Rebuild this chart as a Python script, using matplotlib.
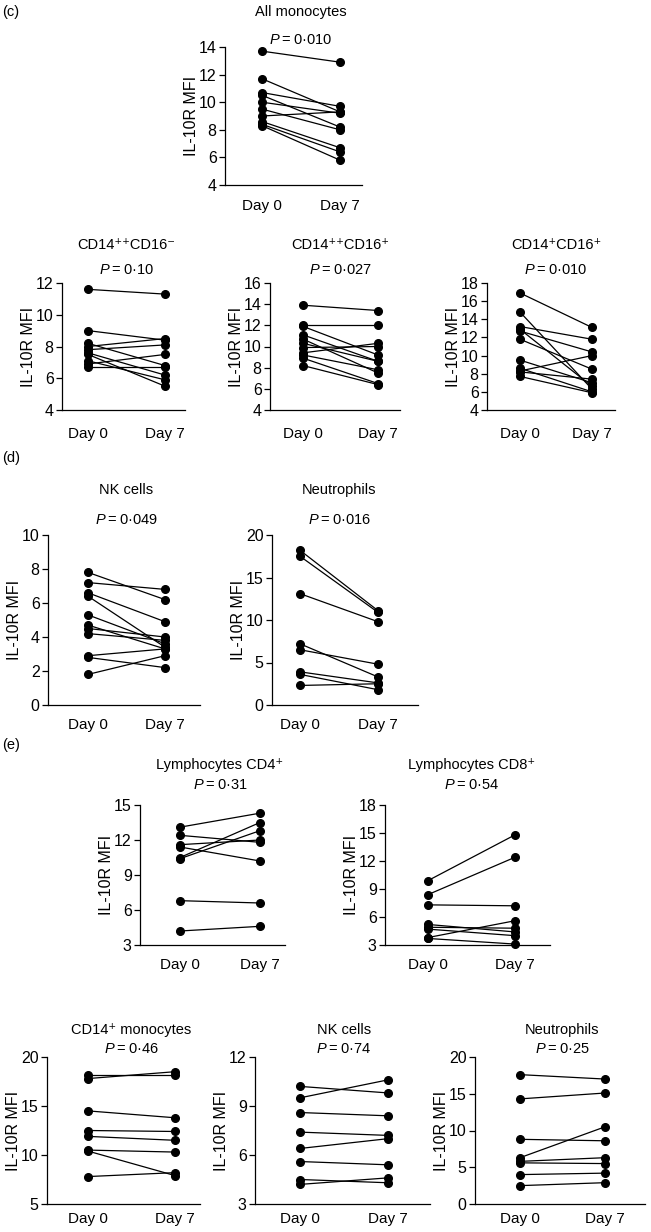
import matplotlib
matplotlib.use('Agg')
import matplotlib.pyplot as plt

plt.rcParams['font.family'] = ['Liberation Sans', 'DejaVu Sans']
plt.rcParams['mathtext.fontset'] = 'custom'
plt.rcParams['mathtext.rm'] = 'Liberation Sans'
plt.rcParams['mathtext.it'] = 'Liberation Sans:italic'
plt.rcParams['font.size'] = 10

# ---- data, paired Day 0 / Day 7 values ----
days = ['Day 0', 'Day 7']

all_mono_d0 = [13.7, 11.7, 10.7, 10.5, 10.0, 9.5, 9.0, 8.6, 8.4, 8.3]
all_mono_d7 = [12.9, 9.3, 9.7, 8.2, 9.2, 8.0, 9.3, 6.7, 6.4, 5.8]

cd16neg_d0 = [11.6, 9.0, 8.2, 8.0, 7.8, 7.6, 7.5, 7.1, 6.9, 6.7]
cd16neg_d7 = [11.3, 8.4, 6.8, 8.5, 8.1, 6.2, 5.5, 5.9, 7.5, 6.7]

cd16pos_d0 = [13.9, 12.0, 11.9, 11.1, 10.7, 10.3, 9.9, 9.4, 9.2, 8.9, 8.2]
cd16pos_d7 = [13.4, 12.0, 9.2, 8.6, 7.5, 8.6, 10.0, 10.3, 7.8, 6.5, 6.4]

cd14dim_d0 = [16.9, 14.8, 13.2, 12.9, 12.7, 11.8, 9.5, 8.6, 8.3, 8.2, 7.7]
cd14dim_d7 = [13.1, 6.3, 11.8, 6.6, 10.4, 8.5, 7.0, 6.0, 10.0, 7.4, 5.9]

nk_d_d0 = [7.8, 7.2, 6.6, 6.4, 5.3, 4.7, 4.5, 4.2, 2.9, 2.8, 1.8]
nk_d_d7 = [6.2, 6.8, 4.9, 3.4, 3.6, 3.3, 4.0, 3.8, 3.3, 2.2, 2.9]

neut_d_d0 = [18.2, 17.5, 13.1, 7.2, 6.5, 3.9, 3.6, 2.3]
neut_d_d7 = [11.1, 10.9, 9.8, 3.3, 4.8, 2.6, 1.8, 2.5]

cd4_d0 = [13.1, 12.4, 11.6, 11.4, 10.5, 10.4, 6.8, 4.2]
cd4_d7 = [14.3, 11.8, 12.0, 10.2, 13.5, 12.8, 6.6, 4.6]

cd8_d0 = [9.9, 8.4, 7.3, 5.2, 4.9, 4.7, 3.8, 3.7]
cd8_d7 = [14.8, 12.4, 7.2, 4.4, 4.8, 4.0, 5.6, 3.1]

cd14_d0 = [18.2, 17.8, 14.5, 12.5, 11.9, 10.5, 10.4, 7.8]
cd14_d7 = [18.2, 18.5, 13.8, 12.4, 11.5, 10.3, 7.9, 8.2]

nk_e_d0 = [10.2, 9.5, 8.6, 7.4, 6.4, 5.6, 4.5, 4.2]
nk_e_d7 = [9.8, 10.6, 8.4, 7.2, 7.0, 5.4, 4.3, 4.6]

neut_e_d0 = [17.6, 14.3, 8.8, 6.3, 5.8, 5.6, 4.0, 2.5]
neut_e_d7 = [17.0, 15.1, 8.6, 10.5, 6.3, 5.5, 4.2, 2.9]

W, H = 651, 1232
fig = plt.figure(figsize=(W / 100, H / 100), dpi=100)


def px2pt(v):
    return v * 72 / 100


def panel(box, xpos, d0, d7, ylim, yticks, title, ptxt, title_dy, p_dy, xpad=9):
    # box = left, top, right, bottom in pixels; xpos = pixel x of Day 0 / Day 7
    left, top, right, bottom = box
    ax = fig.add_axes([left / W, 1 - bottom / H, (right - left) / W, (bottom - top) / H])
    for a, b in zip(d0, d7):
        ax.plot([0, 1], [a, b], color='black', lw=0.9, marker='o', ms=5.5,
                mfc='black', mec='black', clip_on=False)
    unit = xpos[1] - xpos[0]
    ax.set_xlim(-(xpos[0] - left) / unit, 1 + (right - xpos[1]) / unit)
    ax.set_ylim(*ylim)
    ax.set_yticks(yticks)
    ax.set_xticks([0, 1])
    ax.set_xticklabels(days, fontsize=11)
    ax.tick_params(axis='x', length=0, pad=xpad)
    ax.tick_params(axis='y', length=4, width=0.9, direction='out', pad=2, labelsize=11.5)
    for s in ['top', 'right']:
        ax.spines[s].set_visible(False)
    for s in ['left', 'bottom']:
        ax.spines[s].set_linewidth(0.9)
    ax.set_ylabel('IL-10R MFI', fontsize=11.5, labelpad=0)
    ax.annotate(title, xy=(0.5, 1), xycoords=('data', 'axes fraction'),
                xytext=(0, px2pt(title_dy)), textcoords='offset points',
                ha='center', va='center', fontsize=10.5)
    ax.annotate('$P$\u2009=\u2009' + ptxt, xy=(0.5, 1), xycoords=('data', 'axes fraction'),
                xytext=(0, px2pt(p_dy)), textcoords='offset points',
                ha='center', va='center', fontsize=10.5)
    return ax


# (c)
panel((225, 47, 362, 185), (262, 340), all_mono_d0, all_mono_d7, (4, 14), range(4, 15, 2),
      'All monocytes', '0·010', 35, 7, xpad=10)
panel((62, 283, 185, 410), (88, 165), cd16neg_d0, cd16neg_d7, (4, 12), range(4, 13, 2),
      'CD14\u207a\u207aCD16\u207b', '0·10', 38, 13, xpad=12)
panel((270, 283, 400, 410), (303, 378), cd16pos_d0, cd16pos_d7, (4, 16), range(4, 17, 2),
      'CD14\u207a\u207aCD16\u207a', '0·027', 38, 13, xpad=12)
panel((487, 283, 615, 410), (520, 592), cd14dim_d0, cd14dim_d7, (4, 18), range(4, 19, 2),
      'CD14\u207aCD16\u207a', '0·010', 38, 13, xpad=12)

# (d)
panel((48, 535, 200, 705), (88, 165), nk_d_d0, nk_d_d7, (0, 10), range(0, 11, 2),
      'NK cells', '0·049', 45, 15)
panel((272, 535, 418, 705), (300, 378), neut_d_d0, neut_d_d7, (0, 20), range(0, 21, 5),
      'Neutrophils', '0·016', 45, 15)

# (e)
panel((140, 805, 285, 945), (180, 260), cd4_d0, cd4_d7, (3, 15), range(3, 16, 3),
      'Lymphocytes CD4\u207a', '0·31', 40, 20)
panel((385, 805, 550, 945), (428, 515), cd8_d0, cd8_d7, (3, 18), range(3, 19, 3),
      'Lymphocytes CD8\u207a', '0·54', 40, 20)
panel((47, 1057, 200, 1204), (88, 175), cd14_d0, cd14_d7, (5, 20), range(5, 21, 5),
      'CD14\u207a monocytes', '0·46', 27, 8, xpad=6)
panel((255, 1057, 430, 1204), (300, 388), nk_e_d0, nk_e_d7, (3, 12), range(3, 13, 3),
      'NK cells', '0·74', 27, 8, xpad=6)
panel((475, 1057, 645, 1204), (520, 605), neut_e_d0, neut_e_d7, (0, 20), range(0, 21, 5),
      'Neutrophils', '0·25', 27, 8, xpad=6)

fig.text(2 / W, 1 - 12 / H, '(c)', fontsize=10.5, va='center')
fig.text(2 / W, 1 - 458 / H, '(d)', fontsize=10.5, va='center')
fig.text(2 / W, 1 - 745 / H, '(e)', fontsize=10.5, va='center')

fig.savefig('out.png', dpi=100)
